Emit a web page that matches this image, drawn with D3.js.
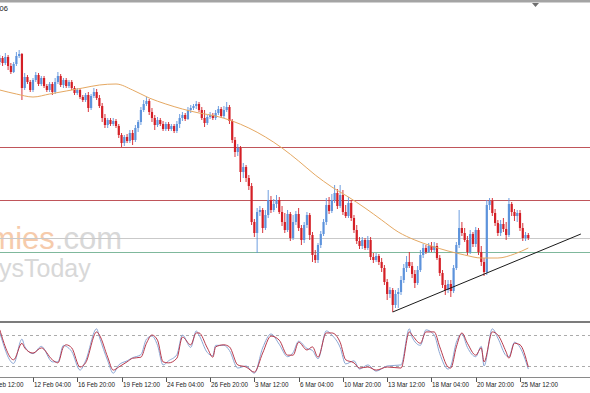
<!DOCTYPE html>
<html>
<head>
<meta charset="utf-8">
<script src="https://cdn.jsdelivr.net/npm/d3@7"></script>
<style>
  html, body { margin: 0; padding: 0; background: #fff; overflow: hidden; }
  svg { display: block; }
</style>
</head>
<body>
<div id="container"></div>
<script>
/* CONSTANTS */
const width = 590, height = 393;
const mainPanel = { top: 3, bottom: 321 };
const subPanel = { top: 324, bottom: 377 };

/* DATA (H4 bars) */
const firstOpen = 1.1138;

const close = [
  1.1142, 1.1137, 1.1143, 1.1134, 1.1128, 1.1136, 1.1144, 1.1146, 1.1112, 1.1123, 1.1118, 1.1110, 1.1120, 1.1125, 1.1116, 1.1122,
  1.1114, 1.1110, 1.1116, 1.1108, 1.1118, 1.1124, 1.1115, 1.1120, 1.1114, 1.1118, 1.1112, 1.1107, 1.1110, 1.1103, 1.1100, 1.1105,
  1.1092, 1.1104, 1.1108, 1.1102, 1.1094, 1.1082, 1.1075, 1.1080, 1.1076, 1.1079, 1.1074, 1.1065, 1.1057, 1.1063, 1.1059, 1.1067,
  1.1060, 1.1072, 1.1078, 1.1090, 1.1096, 1.1099, 1.1088, 1.1082, 1.1075, 1.1080, 1.1076, 1.1071, 1.1076, 1.1071, 1.1074, 1.1069,
  1.1076, 1.1082, 1.1085, 1.1081, 1.1090, 1.1092, 1.1094, 1.1096, 1.1090, 1.1082, 1.1077, 1.1083, 1.1085, 1.1082, 1.1087, 1.1091,
  1.1084, 1.1090, 1.1093, 1.1079, 1.1060, 1.1048, 1.1052, 1.1028, 1.1033, 1.1022, 1.1014, 1.0978, 1.0967, 1.0988, 1.0990, 1.0972,
  1.0985, 1.1000, 1.0990, 1.0996, 1.1000, 1.0988, 1.0978, 1.0970, 1.0986, 1.0962, 1.0978, 1.0986, 1.0972, 1.0960, 1.0975, 1.0985,
  1.0965, 1.0945, 1.0940, 1.0955, 1.0966, 1.0978, 1.0995, 1.0989, 1.1000, 1.1007, 1.0994, 1.1005, 1.0988, 1.0984, 1.0997, 1.0982,
  1.0970, 1.0959, 1.0954, 1.0960, 1.0952, 1.0960, 1.0943, 1.0940, 1.0944, 1.0938, 1.0932, 1.0918, 1.0906, 1.0910, 1.0895, 1.0906,
  1.0908, 1.0920, 1.0932, 1.0938, 1.0934, 1.0926, 1.0917, 1.0930, 1.0945, 1.0952, 1.0948, 1.0954, 1.0950, 1.0954, 1.0942, 1.0927,
  1.0915, 1.0910, 1.0916, 1.0909, 1.0932, 1.0955, 1.0972, 1.0967, 1.0960, 1.0948, 1.0966, 1.0956, 1.0970, 1.0948, 1.0938, 1.0928,
  1.0995, 1.0999, 1.0987, 1.0977, 1.0967, 1.0976, 1.0971, 1.0965, 1.0996, 1.0988, 1.0984, 1.0987, 1.0972, 1.0962, 1.0965, 1.0962
];

const high = [
  1.1145, 1.1144, 1.1147, 1.1145, 1.1137, 1.1138, 1.1148, 1.1150, 1.1147, 1.1127, 1.1125, 1.1120, 1.1122, 1.1128, 1.1127, 1.1124,
  1.1124, 1.1116, 1.1118, 1.1118, 1.1122, 1.1128, 1.1126, 1.1122, 1.1122, 1.1120, 1.1120, 1.1114, 1.1112, 1.1111, 1.1105, 1.1107,
  1.1108, 1.1106, 1.1112, 1.1111, 1.1105, 1.1097, 1.1086, 1.1082, 1.1082, 1.1082, 1.1081, 1.1076, 1.1067, 1.1065, 1.1066, 1.1070,
  1.1070, 1.1075, 1.1080, 1.1093, 1.1100, 1.1103, 1.1101, 1.1092, 1.1085, 1.1083, 1.1082, 1.1079, 1.1078, 1.1078, 1.1076, 1.1076,
  1.1079, 1.1086, 1.1088, 1.1087, 1.1093, 1.1095, 1.1096, 1.1099, 1.1098, 1.1093, 1.1090, 1.1085, 1.1088, 1.1087, 1.1090, 1.1094,
  1.1093, 1.1094, 1.1098, 1.1095, 1.1081, 1.1063, 1.1056, 1.1054, 1.1037, 1.1035, 1.1025, 1.1017, 1.0981, 1.0992, 1.0994, 1.0992,
  1.0990, 1.1010, 1.1004, 1.1001, 1.1005, 1.1003, 1.0994, 1.0987, 1.0990, 1.0988, 1.0985, 1.0989, 1.0992, 1.0975, 1.0978, 1.0988,
  1.0987, 1.0968, 1.0950, 1.0957, 1.0969, 1.0981, 1.1002, 1.1003, 1.1006, 1.1015, 1.1011, 1.1015, 1.1010, 1.0995, 1.1003, 1.1000,
  1.0985, 1.0975, 1.0963, 1.0963, 1.0962, 1.0964, 1.0963, 1.0947, 1.0947, 1.0946, 1.0942, 1.0935, 1.0921, 1.0913, 1.0912, 1.0910,
  1.0912, 1.0924, 1.0936, 1.0944, 1.0948, 1.0938, 1.0930, 1.0934, 1.0950, 1.0956, 1.0955, 1.0957, 1.0958, 1.0958, 1.0957, 1.0945,
  1.0930, 1.0920, 1.0920, 1.0920, 1.0935, 1.0958, 1.0990, 1.0978, 1.0972, 1.0964, 1.0970, 1.0968, 1.0973, 1.0972, 1.0954, 1.0942,
  1.1000, 1.1002, 1.1002, 1.0991, 1.0980, 1.0980, 1.0982, 1.0978, 1.1002, 1.0998, 1.0991, 1.0990, 1.0990, 1.0977, 1.0968, 1.0967
];

const low = [
  1.1135, 1.1134, 1.1135, 1.1130, 1.1126, 1.1127, 1.1134, 1.1142, 1.1100, 1.1110, 1.1116, 1.1108, 1.1108, 1.1118, 1.1114, 1.1114,
  1.1112, 1.1108, 1.1108, 1.1105, 1.1106, 1.1116, 1.1113, 1.1112, 1.1112, 1.1112, 1.1110, 1.1105, 1.1105, 1.1101, 1.1098, 1.1098,
  1.1088, 1.1090, 1.1102, 1.1100, 1.1092, 1.1078, 1.1072, 1.1072, 1.1074, 1.1074, 1.1072, 1.1062, 1.1053, 1.1054, 1.1057, 1.1057,
  1.1055, 1.1058, 1.1068, 1.1075, 1.1088, 1.1094, 1.1085, 1.1078, 1.1070, 1.1073, 1.1074, 1.1069, 1.1069, 1.1069, 1.1069, 1.1067,
  1.1067, 1.1072, 1.1079, 1.1079, 1.1080, 1.1087, 1.1090, 1.1091, 1.1088, 1.1080, 1.1073, 1.1075, 1.1081, 1.1080, 1.1080, 1.1085,
  1.1082, 1.1082, 1.1088, 1.1076, 1.1057, 1.1043, 1.1044, 1.1018, 1.1022, 1.1018, 1.1010, 1.0975, 1.0963, 1.0947, 1.0984, 1.0967,
  1.0970, 1.0982, 1.0987, 1.0988, 1.0992, 1.0986, 1.0974, 1.0967, 1.0968, 1.0959, 1.0960, 1.0975, 1.0969, 1.0955, 1.0957, 1.0972,
  1.0960, 1.0938, 1.0937, 1.0937, 1.0952, 1.0964, 1.0975, 1.0986, 1.0987, 1.0997, 1.0991, 1.0992, 1.0985, 1.0982, 1.0982, 1.0979,
  1.0967, 1.0956, 1.0951, 1.0951, 1.0950, 1.0950, 1.0940, 1.0937, 1.0938, 1.0935, 1.0928, 1.0915, 1.0900, 1.0902, 1.0888, 1.0892,
  1.0892, 1.0905, 1.0917, 1.0928, 1.0932, 1.0922, 1.0912, 1.0915, 1.0928, 1.0942, 1.0946, 1.0947, 1.0948, 1.0948, 1.0940, 1.0924,
  1.0912, 1.0905, 1.0907, 1.0903, 1.0907, 1.0930, 1.0952, 1.0964, 1.0958, 1.0945, 1.0946, 1.0953, 1.0953, 1.0945, 1.0934, 1.0924,
  1.0925, 1.0990, 1.0984, 1.0974, 1.0964, 1.0964, 1.0968, 1.0960, 1.0963, 1.0984, 1.0979, 1.0978, 1.0969, 1.0959, 1.0959, 1.0960
];

// moving average, read at every 6th bar
const maBars = [0, 6, 12, 18, 24, 30, 36, 42, 48, 54, 60, 66, 72, 78, 84, 90, 96, 102, 108, 114, 120, 126, 132, 138, 144, 150, 156, 162, 168, 174, 180, 186, 191];
const maValues = [1.1110, 1.1106, 1.1103, 1.1106, 1.1109, 1.1112, 1.1115, 1.1116, 1.1110, 1.1102, 1.1096, 1.1091, 1.1087, 1.1084, 1.1079, 1.1072,
  1.1063, 1.1052, 1.1039, 1.1025, 1.1013, 1.1003, 1.0992, 1.0980, 1.0968, 1.0960, 1.0954, 1.0949, 1.0945, 1.0942, 1.0942, 1.0946, 1.0952];

// horizontal levels and trendline
const redLevels = [1.1053, 1.1000];
const grayLevel = 1.0962;
const greenLevel = 1.0948;
const trendBars = [142, 210];
const trendPrices = [1.0888, 1.0966];

// stochastic oscillator
const stochBars = [0, 5, 8, 9, 12, 15, 19, 21, 23, 24, 26, 29, 31, 35, 36, 39, 41, 43, 46, 48, 51, 53, 55, 57, 59, 61, 64, 66, 69, 71,
  72, 75, 77, 78, 81, 83, 86, 89, 92, 95, 98, 101, 104, 106, 108, 111, 113, 115, 118, 120, 123, 125, 128, 130, 133, 136, 140, 145, 148, 149,
  152, 154, 157, 159, 162, 163, 165, 167, 169, 172, 174, 175, 178, 180, 183, 184, 186, 188, 191];
const stochD = [90, 32, 64, 55, 45, 55, 32, 26, 57, 61, 55, 18, 26, 86, 80, 37, 12, 18, 28, 35, 37, 64, 80, 70, 28, 26, 35, 76, 61, 84,
  84, 55, 37, 57, 61, 57, 22, 18, 8, 45, 78, 70, 41, 41, 66, 51, 57, 37, 84, 84, 66, 32, 26, 16, 18, 12, 18, 16, 86, 80,
  64, 86, 86, 57, 18, 16, 57, 84, 64, 41, 55, 28, 86, 80, 47, 35, 64, 61, 18];
const stochK = [85, 25, 72, 58, 44, 58, 28, 28, 60, 58, 48, 12, 30, 92, 76, 30, 6, 22, 30, 36, 42, 72, 78, 60, 22, 30, 42, 80, 56, 88,
  80, 46, 40, 60, 60, 50, 16, 20, 6, 55, 82, 62, 38, 46, 68, 54, 50, 34, 88, 80, 56, 24, 30, 14, 22, 10, 20, 22, 92, 76,
  60, 90, 80, 44, 14, 20, 66, 82, 56, 38, 58, 20, 92, 74, 40, 38, 66, 56, 14];
const stochLevels = [80, 20];

// time axis
const tickBars = [-4, 12, 28, 44, 60, 76, 92, 108, 124, 140, 156, 172, 188];
const tickLabels = ["7 Feb 12:00", "12 Feb 04:00", "16 Feb 20:00", "19 Feb 12:00", "24 Feb 04:00", "26 Feb 20:00",
  "3 Mar 12:00", "6 Mar 04:00", "10 Mar 20:00", "13 Mar 12:00", "18 Mar 04:00", "20 Mar 20:00", "25 Mar 12:00"];

/* SCALES */
const xScale = d3.scaleLinear().domain([12, 188]).range([33, 520]);
const yScale = d3.scaleLinear().domain([1.0880, 1.1200]).range([320, 0]);
const sScale = d3.scaleLinear().domain([0, 100]).range([376.3, 324.7]);

const upColor = "#5d93dc", downColor = "#d41f26";

const svg = d3.select("#container")
  .append("svg")
  .attr("width", width)
  .attr("height", height)
  .style("font-family", "'Liberation Sans', Arial, sans-serif");

svg.append("rect").attr("width", width).attr("height", height).attr("fill", "#fff");

const defs = svg.append("defs");
defs.append("clipPath").attr("id", "clip-main")
  .append("rect").attr("x", 0).attr("y", mainPanel.top).attr("width", width).attr("height", mainPanel.bottom - mainPanel.top);
defs.append("clipPath").attr("id", "clip-sub")
  .append("rect").attr("x", 0).attr("y", subPanel.top - 1).attr("width", width).attr("height", subPanel.bottom - subPanel.top + 1);

/* WATERMARK */
const wm = svg.append("g").attr("clip-path", "url(#clip-main)");
const logo = wm.append("text")
  .attr("x", 122).attr("y", 249)
  .attr("text-anchor", "end")
  .style("font-size", "31px");
logo.append("tspan").attr("fill", "#f6cbab").text("economies");
logo.append("tspan").attr("fill", "#d8d8d8").text(".com");
wm.append("text")
  .attr("x", -1).attr("y", 277)
  .attr("fill", "#d8d8d8")
  .style("font-size", "25px")
  .text("ysToday");

/* MAIN PANEL */
const gMain = svg.append("g").attr("clip-path", "url(#clip-main)");

gMain.selectAll("line.red-level")
  .data(redLevels)
  .join("line")
  .attr("class", "red-level")
  .attr("x1", 0).attr("x2", width)
  .attr("y1", d => Math.round(yScale(d)) + 0.5)
  .attr("y2", d => Math.round(yScale(d)) + 0.5)
  .attr("stroke", "#c0555a").attr("stroke-width", 1);

gMain.append("line")
  .attr("x1", 0).attr("x2", width)
  .attr("y1", Math.round(yScale(grayLevel)) + 0.5).attr("y2", Math.round(yScale(grayLevel)) + 0.5)
  .attr("stroke", "#c9c9c9");

gMain.append("line")
  .attr("x1", 0).attr("x2", width)
  .attr("y1", Math.round(yScale(greenLevel)) + 0.5).attr("y2", Math.round(yScale(greenLevel)) + 0.5)
  .attr("stroke", "#7fb89c");

const candles = close.map((c, i) => ({
  i,
  o: i ? close[i - 1] : firstOpen,
  c,
  h: high[i],
  l: low[i]
}));

const candleG = gMain.selectAll("g.candle")
  .data(candles)
  .join("g")
  .attr("class", "candle")
  .attr("fill", d => d.c >= d.o ? upColor : downColor)
  .attr("stroke", d => d.c >= d.o ? upColor : downColor);

candleG.append("line")
  .attr("x1", d => xScale(d.i)).attr("x2", d => xScale(d.i))
  .attr("y1", d => yScale(d.h)).attr("y2", d => yScale(d.l))
  .attr("stroke-width", 0.9);

candleG.append("rect")
  .attr("stroke", "none")
  .attr("x", d => xScale(d.i) - 1.1)
  .attr("width", 2.2)
  .attr("y", d => yScale(Math.max(d.o, d.c)))
  .attr("height", d => Math.max(1, yScale(Math.min(d.o, d.c)) - yScale(Math.max(d.o, d.c))));

const maLine = d3.line()
  .x((d, k) => xScale(maBars[k]))
  .y(d => yScale(d))
  .curve(d3.curveMonotoneX);

gMain.append("path")
  .attr("d", maLine(maValues))
  .attr("fill", "none")
  .attr("stroke", "#e5a862")
  .attr("stroke-width", 1);

gMain.append("line")
  .attr("x1", xScale(trendBars[0])).attr("y1", yScale(trendPrices[0]))
  .attr("x2", xScale(trendBars[1])).attr("y2", yScale(trendPrices[1]))
  .attr("stroke", "#1a1a1a").attr("stroke-width", 1);

/* FRAME */
svg.append("rect").attr("x", 0).attr("y", 0).attr("width", width).attr("height", 2.5).attr("fill", "#a4a4a4");
svg.append("path")
  .attr("d", "M532,3 L539,3 L535.5,7 Z")
  .attr("fill", "#6e6e6e");
svg.append("text")
  .attr("x", -0.5).attr("y", 11)
  .attr("fill", "#222")
  .style("font-size", "7.5px")
  .text("06");

svg.append("rect").attr("x", 0).attr("y", 321).attr("width", width).attr("height", 2).attr("fill", "#7c7c7c");

/* STOCHASTIC PANEL */
const gSub = svg.append("g").attr("clip-path", "url(#clip-sub)");

gSub.selectAll("line.level")
  .data(stochLevels)
  .join("line")
  .attr("class", "level")
  .attr("x1", 0).attr("x2", width)
  .attr("y1", d => Math.round(sScale(d)) + 0.5)
  .attr("y2", d => Math.round(sScale(d)) + 0.5)
  .attr("stroke", "#ababab")
  .attr("stroke-dasharray", "3,3");

const stochLine = d3.line()
  .x((d, k) => xScale(stochBars[k]))
  .y(d => sScale(d))
  .curve(d3.curveMonotoneX);

gSub.append("path")
  .attr("d", stochLine(stochK))
  .attr("fill", "none")
  .attr("stroke", "#8ba6d4")
  .attr("stroke-width", 1);

gSub.append("path")
  .attr("d", stochLine(stochD))
  .attr("fill", "none")
  .attr("stroke", "#b8394c")
  .attr("stroke-width", 1);

/* TIME AXIS */
svg.append("line")
  .attr("x1", 0).attr("x2", width)
  .attr("y1", 377.5).attr("y2", 377.5)
  .attr("stroke", "#8a8a8a");

const ticks = svg.selectAll("g.tick")
  .data(tickBars)
  .join("g")
  .attr("class", "tick")
  .attr("transform", d => `translate(${Math.round(xScale(d)) + 0.5},0)`);

ticks.append("line")
  .attr("y1", 377.5).attr("y2", 382)
  .attr("stroke", "#555");

ticks.append("text")
  .attr("x", 0.5).attr("y", 386.5)
  .attr("fill", "#222")
  .style("font-size", "6.3px")
  .text((d, k) => tickLabels[k]);
</script>
</body>
</html>
